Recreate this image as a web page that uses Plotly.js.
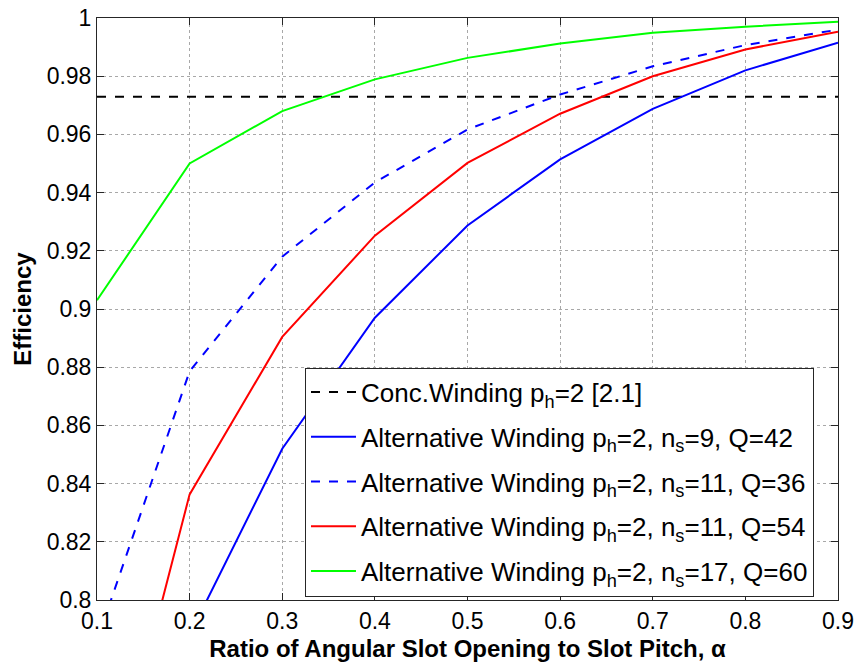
<!DOCTYPE html>
<html>
<head>
<meta charset="utf-8">
<script src="https://cdn.plot.ly/plotly-3.0.1.min.js"></script>
<style>html,body{margin:0;padding:0;background:#fff;}#chart{width:858px;height:666px;}</style>
</head>
<body>
<div id="chart"></div>
<script>
// Data
const alpha = [0.1, 0.2, 0.3, 0.4, 0.5, 0.6, 0.7, 0.8, 0.9];
const concWinding = 0.9729;
const altQ42 = [0.700, 0.788, 0.852, 0.897, 0.9287, 0.9514, 0.9688, 0.982, 0.9915];
const altQ36 = [0.786, 0.8786, 0.918, 0.9435, 0.9617, 0.9737, 0.9834, 0.9907, 0.996];
const altQ54 = [0.713, 0.8363, 0.8904, 0.9252, 0.9502, 0.9671, 0.980, 0.9892, 0.9953];
const altQ60 = [0.903, 0.950, 0.968, 0.9789, 0.9863, 0.9912, 0.9949, 0.997, 0.9987];
const names = [
  "Conc.Winding p<sub>h</sub>=2 [2.1]",
  "Alternative Winding p<sub>h</sub>=2, n<sub>s</sub>=9, Q=42",
  "Alternative Winding p<sub>h</sub>=2, n<sub>s</sub>=11, Q=36",
  "Alternative Winding p<sub>h</sub>=2, n<sub>s</sub>=11, Q=54",
  "Alternative Winding p<sub>h</sub>=2, n<sub>s</sub>=17, Q=60"
];
const xTicks = [0.1, 0.2, 0.3, 0.4, 0.5, 0.6, 0.7, 0.8, 0.9];
const xTickText = ["0.1","0.2","0.3","0.4","0.5","0.6","0.7","0.8","0.9"];
const yTicks = [0.8, 0.82, 0.84, 0.86, 0.88, 0.9, 0.92, 0.94, 0.96, 0.98, 1];
const yTickText = ["0.8","0.82","0.84","0.86","0.88","0.9","0.92","0.94","0.96","0.98","1"];

const W = 2;
const traces = [
  {x: alpha, y: alpha.map(() => concWinding), name: names[0], legendgroup: 'g0', mode: 'lines',
   line: {color: '#000000', width: W, dash: 'dash'}},
  {x: alpha, y: altQ42, name: names[1], legendgroup: 'g1', mode: 'lines', line: {color: '#0000ff', width: W}},
  {x: alpha, y: altQ36, name: names[2], legendgroup: 'g2', mode: 'lines', line: {color: '#0000ff', width: W, dash: 'dash'}},
  {x: alpha, y: altQ54, name: names[3], legendgroup: 'g3', mode: 'lines', line: {color: '#ff0000', width: W}},
  {x: alpha, y: altQ60, name: names[4], legendgroup: 'g4', mode: 'lines', line: {color: '#00ff00', width: W}}
];

const font = "Liberation Sans, Arial, sans-serif";
const axisCommon = {
  showline: true, linecolor: '#262626', linewidth: 1, mirror: 'ticks',
  ticks: 'inside', ticklen: 7, tickcolor: '#262626',
  showgrid: true, gridcolor: '#a8a8a8', griddash: 'dot', gridwidth: 1,
  zeroline: false, tickfont: {family: font, size: 23, color: '#000'}
};
const layout = {
  width: 858, height: 666,
  margin: {l: 97, r: 20, t: 18, b: 66},
  paper_bgcolor: '#fff', plot_bgcolor: '#fff',
  showlegend: true,
  legend: {
    x: 0.9676, y: 0.006, xanchor: 'right', yanchor: 'bottom',
    bgcolor: '#fff', bordercolor: '#262626', borderwidth: 1,
    font: {family: font, size: 26, color: '#000'},
    itemwidth: 45, tracegroupgap: 8
  },
  xaxis: Object.assign({}, axisCommon, {
    range: [0.1, 0.9], tickvals: xTicks, ticktext: xTickText,
    title: {text: "<b>Ratio of Angular Slot Opening to Slot Pitch, α</b>", font: {family: font, size: 24, color: '#000'}, standoff: 7}
  }),
  yaxis: Object.assign({}, axisCommon, {
    range: [0.8, 1], tickvals: yTicks, ticktext: yTickText,
    title: {text: "<b>Efficiency</b>", font: {family: font, size: 24, color: '#000'}, standoff: 8}
  })
};
Plotly.newPlot('chart', traces, layout, {displayModeBar: false, staticPlot: true});
</script>
</body>
</html>
